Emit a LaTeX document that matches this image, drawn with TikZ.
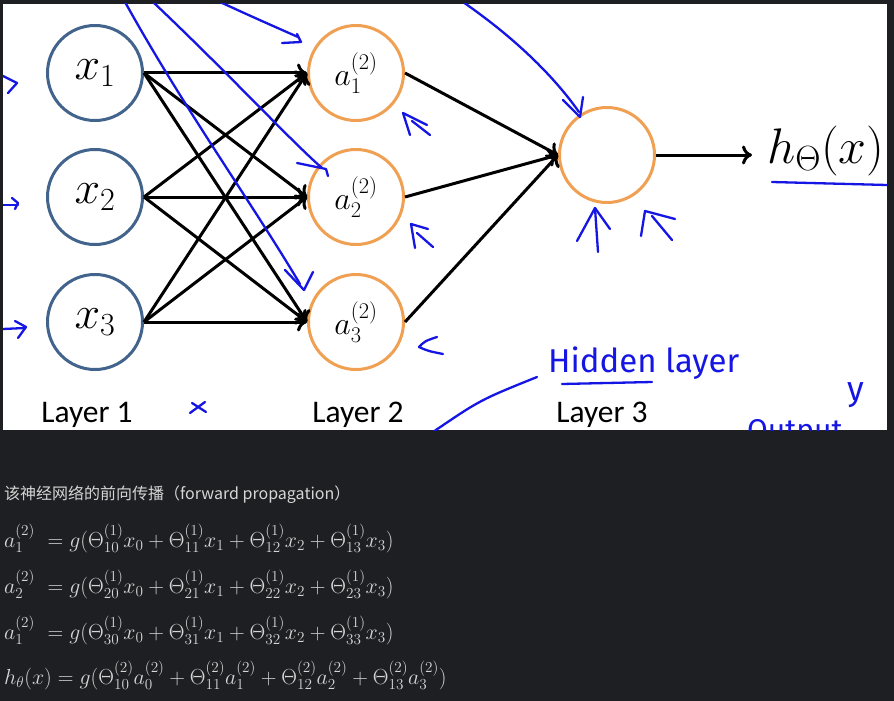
\RequirePackage{fix-cm}
\documentclass[tikz,border=0pt]{standalone}
\usepackage{amsmath}
\usepackage{fontspec}
\setsansfont{Carlito}
\newfontfamily\cjk{Noto Sans CJK SC}
\newfontfamily\inkfont{Fira Sans}
\usepackage{tikz}
\usetikzlibrary{arrows.meta}
\usepackage{xcolor}
\definecolor{page_bg}{RGB}{30,31,34}
\definecolor{text_gray}{RGB}{214,214,214}
\definecolor{input_ring}{RGB}{66,100,140}
\definecolor{hidden_ring}{RGB}{240,160,82}
\definecolor{ink_blue}{RGB}{22,22,228}

\begin{document}
\begin{tikzpicture}[x=1pt,y=-1pt,
            neuron/.style = {circle, draw, line width=3pt, minimum size=95pt, inner sep=0pt},
            link/.style = {line width=3pt, -{Computer Modern Rightarrow[length=10pt,width=19pt]}},
            ink/.style = {draw=ink_blue, line width=2.3pt, line cap=round, line join=round},
            layername/.style = {anchor=base, font=\sffamily\fontsize{31.5}{31.5}\selectfont},
            eqline/.style = {anchor=base west, inner sep=0pt, text=text_gray, font=\fontsize{21.8}{21.8}\selectfont}
            ]
            \useasboundingbox (0,0) rectangle (894,701);
            \fill[page_bg] (0,0) rectangle (894,701);
            \fill[white] (3,4) rectangle (887,430);

            \foreach \i/\y in {1/73, 2/197, 3/322} {
                \node[neuron, draw=input_ring, font=\fontsize{46}{46}\selectfont] (x\i) at (95,\y) {$x_\i$};
                \node[neuron, draw=hidden_ring, font=\fontsize{32}{32}\selectfont] (a\i) at (356,\y) {$a_\i^{(2)}$};
            }
            \node[neuron, draw=hidden_ring] (out) at (607,155) {};
            \node[anchor=base west, inner sep=0pt, font=\fontsize{50}{50}\selectfont] (hx) at (767,163) {$h_\Theta(x)$};

            \foreach \i in {1,2,3}
                \foreach \j in {1,2,3}
                    \draw[link] (x\i.east) -- (a\j.west);
            \foreach \j in {1,2,3}
                \draw[link] (a\j.east) -- (out.west);
            \draw[link] (out.east) -- ([xshift=-15pt]out.east -| hx.west);

            \node[layername] (l1) at (87,422) {Layer 1};
            \node[layername] (l2) at (358,422) {Layer 2};
            \node[layername] (l3) at (602,422) {Layer 3};

            \begin{scope}
                \clip (3,4) rectangle (887,430);
                \draw[ink] (125,2) .. controls (185,110) and (250,200) .. (300,284);
                \draw[ink] (285,270) -- (304,290) -- (313,272);
                \draw[ink] (153,2) .. controls (230,75) and (290,140) .. (322,168);
                \draw[ink] (297,163) -- (326,169) -- (328,176);
                \draw[ink] (220,2) .. controls (255,18) .. (298,37);
                \draw[ink] (282,43) -- (301,42) -- (297,34);
                \draw[ink] (463,2) .. controls (525,45) and (560,85) .. (579,112);
                \draw[ink] (563,100) -- (580,117) -- (583,97);

                \draw[ink] (3,76) -- (17,83) -- (8,93);
                \draw[ink] (3,205) -- (18,205);
                \draw[ink] (12,198) -- (18,203) -- (15,209);
                \draw[ink] (3,329) -- (25,328);
                \draw[ink] (15,321) -- (26,327) -- (18,338);

                \draw[ink] (410,135) -- (403,113) -- (427,125);
                \draw[ink] (412,121) -- (430,135);
                \draw[ink] (415,248) -- (411,224) -- (428,229);
                \draw[ink] (417,233) -- (433,247);
                \draw[ink] (437,337) .. controls (425,341) .. (419,347) .. controls (428,351) .. (443,354);

                \draw[ink] (595,208) -- (598,252);
                \draw[ink] (577,241) -- (595,208) -- (610,229);
                \draw[ink] (641,236) -- (645,211) -- (675,219);
                \draw[ink] (652,216) -- (672,240);

                \draw[ink] (190,413) -- (205,402);
                \draw[ink] (192,403) -- (206,412);

                \draw[ink] (433,432) .. controls (480,400) .. (537,377);
                \draw[ink] (772,182) -- (887,185);
                \draw[ink] (562,384) -- (652,382);

                \node[anchor=base west, inner sep=0pt, text=ink_blue, font=\inkfont\fontsize{33}{33}\selectfont] (hid) at (548,372) {Hidden layer};
                \node[anchor=base, inner sep=0pt, text=ink_blue, font=\inkfont\fontsize{34}{34}\selectfont] (yy) at (856,400) {y};
                \node[anchor=north west, inner sep=0pt, text=ink_blue, font=\inkfont\fontsize{30}{30}\selectfont] (outp) at (747,419) {Output};
            \end{scope}

            \node[anchor=base west, inner sep=0pt, text=text_gray, font=\cjk\fontsize{16}{16}\selectfont] (title) at (4,499) {该神经网络的前向传播（forward propagation）};
            \foreach \r/\k/\yb in {1/1/547, 2/2/593, 3/1/639}
                \node[eqline] (eq\r) at (4,\yb) {$a_\k^{(2)}\ = g(\Theta_{\r0}^{(1)}x_0 + \Theta_{\r1}^{(1)}x_1 + \Theta_{\r2}^{(1)}x_2 + \Theta_{\r3}^{(1)}x_3)$};
            \node[eqline] (eq4) at (4,684) {$h_\theta(x) = g(\Theta_{10}^{(2)}a_0^{(2)} + \Theta_{11}^{(2)}a_1^{(2)} + \Theta_{12}^{(2)}a_2^{(2)} + \Theta_{13}^{(2)}a_3^{(2)})$};
        \end{tikzpicture}
\end{document}
